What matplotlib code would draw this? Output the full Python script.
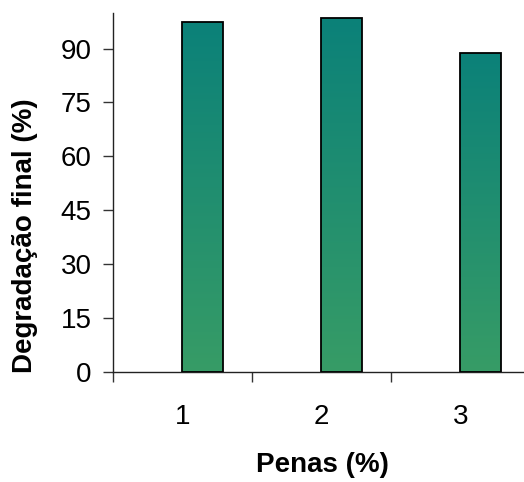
import matplotlib
matplotlib.use("Agg")
import matplotlib.pyplot as plt
import numpy as np
from matplotlib.colors import LinearSegmentedColormap

plt.rcParams["font.family"] = ["Liberation Sans", "DejaVu Sans"]

# degradação final por concentração de penas
penas = [1, 2, 3]
degradacao = [97.5, 98.6, 88.9]
yticks = [0, 15, 30, 45, 60, 75, 90]

bar_width = 0.29
grad = LinearSegmentedColormap.from_list("bar", ["#379c66", "#0b8179"])

fig = plt.figure(figsize=(5.24, 4.82), dpi=100)
ax = fig.add_axes([0.2156, 0.2288, 0.7844, 0.7448])

for x, v in zip(penas, degradacao):
    bar = ax.bar(x, v, width=bar_width, align="edge", color="none",
                 edgecolor="black", linewidth=1.3, zorder=3)[0]
    img = ax.imshow(np.linspace(0, 1, 256).reshape(-1, 1), cmap=grad,
                    origin="lower", aspect="auto",
                    extent=(x, x + bar_width, 0, v), zorder=2)
    img.set_clip_path(bar)

ax.set_xlim(0.5, 3.457)
ax.set_ylim(0, 100)
ax.set_yticks(yticks)
ax.set_xticks([1.5, 2.5, 0.5])
ax.set_xticks(penas, minor=True)
ax.set_xticklabels(["", "", ""])
ax.set_xticklabels([str(p) for p in penas], minor=True)

for s in ["top", "right"]:
    ax.spines[s].set_visible(False)
for s in ["left", "bottom"]:
    ax.spines[s].set_linewidth(1.0)
    ax.spines[s].set_color("#222222")

ax.tick_params(axis="y", direction="out", length=7.2, width=1.0,
               color="#333333", labelsize=20, pad=8)
ax.tick_params(axis="x", which="major", direction="out", length=7.2,
               width=1.0, color="#333333")
ax.tick_params(axis="x", which="minor", length=0, labelsize=20, pad=23)

fig.text(0.048, 0.512, "Degradação final (%)", rotation=90, fontsize=20,
         fontweight="bold", ha="center", va="center")
fig.text(0.615, 0.035, "Penas (%)", fontsize=20, fontweight="bold",
         ha="center", va="center")

fig.savefig("out.png", dpi=100)
